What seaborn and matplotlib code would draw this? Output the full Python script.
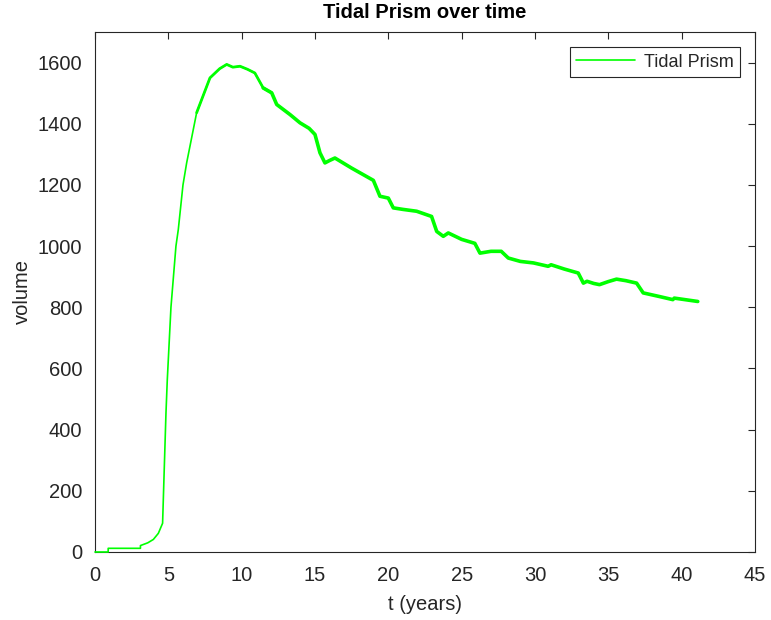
import matplotlib
matplotlib.use("Agg")
import matplotlib.pyplot as plt
import seaborn as sns
import pandas as pd

# Tidal prism volume through time
t_years = [0, 0.9, 0.9, 3.1, 3.1, 3.6, 3.98, 4.32, 4.61, 4.70, 4.84, 4.93,
           5.18, 5.52, 5.68, 6.0, 6.25, 6.93, 7.84, 8.5, 8.98, 9.4, 9.89,
           10.4, 10.9, 11.47, 12.05, 12.39, 13.3, 13.98, 14.6, 15.0, 15.34,
           15.68, 16.0, 16.36, 17.5, 18.98, 19.43, 20.0, 20.34, 21.0, 21.93,
           22.95, 23.3, 23.75, 24.09, 25.0, 25.9, 26.25, 27.0, 27.7, 28.18,
           29.0, 29.9, 30.9, 31.1, 32.0, 32.95, 33.3, 33.55, 34.0, 34.4,
           35.0, 35.56, 36.2, 36.93, 37.38, 38.5, 39.4, 39.5, 41.1]
volume = [0, 0, 12, 12, 21, 30, 41, 61, 94, 236, 454, 563,
          800, 1000, 1054, 1200, 1272, 1436, 1550, 1580, 1594, 1585, 1588,
          1578, 1566, 1517, 1501, 1463, 1430, 1403, 1385, 1365, 1305,
          1272, 1280, 1288, 1255, 1215, 1163, 1157, 1125, 1120, 1114,
          1097, 1048, 1032, 1043, 1022, 1009, 977, 983, 983, 961,
          950, 945, 934, 939, 925, 912, 879, 885, 878, 874,
          884, 892, 887, 879, 847, 835, 825, 830, 819]

x_ticks = [0, 5, 10, 15, 20, 25, 30, 35, 40, 45]
y_ticks = [0, 200, 400, 600, 800, 1000, 1200, 1400, 1600]

sns.set_style("white")
plt.rcParams["font.family"] = ["Liberation Sans", "DejaVu Sans"]
plt.rcParams["xtick.direction"] = "in"
plt.rcParams["ytick.direction"] = "in"

df = pd.DataFrame({"t": t_years, "volume": volume})
# the tidal oscillation widens the trace into a band once the prism is large
band_mid = df[(df["t"] >= 6.93) & (df["t"] <= 12.05)]
band_late = df[df["t"] >= 11.47]

fig = plt.figure(figsize=(7.71, 6.2), dpi=100)
ax = fig.add_axes([0.1232, 0.1097, 0.856, 0.8387])

green = "#00ff00"
sns.lineplot(data=df, x="t", y="volume", ax=ax, color=green,
             linewidth=1.2, estimator=None, sort=False, label="Tidal Prism",
             clip_on=False, zorder=5)
sns.lineplot(data=band_mid, x="t", y="volume", ax=ax, color=green,
             linewidth=2.0, estimator=None, sort=False, legend=False,
             solid_capstyle="round")
sns.lineplot(data=band_late, x="t", y="volume", ax=ax, color=green,
             linewidth=2.6, estimator=None, sort=False, legend=False,
             solid_capstyle="round")

ax.set_xlim(0, 45)
ax.set_ylim(0, 1700)
ax.set_xticks(x_ticks)
ax.set_yticks(y_ticks)

edge = "#262626"
for side in ["top", "right", "bottom", "left"]:
    ax.spines[side].set_visible(True)
    ax.spines[side].set_color(edge)
    ax.spines[side].set_linewidth(0.8)
ax.tick_params(axis="both", which="major", labelsize=14.5, colors=edge,
               length=5, width=0.8, top=True, right=True)
ax.tick_params(axis="x", pad=10)
ax.tick_params(axis="y", pad=9)

ax.set_xlabel("t (years)", fontsize=14.5, color=edge, labelpad=7)
ax.set_ylabel("volume", fontsize=14.5, color=edge, labelpad=4)
ax.set_title("Tidal Prism over time", fontsize=14.5, fontweight="bold",
             color="black", pad=10)

leg = ax.legend(loc="upper right", fontsize=13, frameon=True, fancybox=False,
                edgecolor=edge, framealpha=1, borderaxespad=0.85,
                handlelength=3.3, handletextpad=0.45, borderpad=0.35)
leg.get_frame().set_linewidth(0.8)

fig.savefig("out.png", dpi=100)
